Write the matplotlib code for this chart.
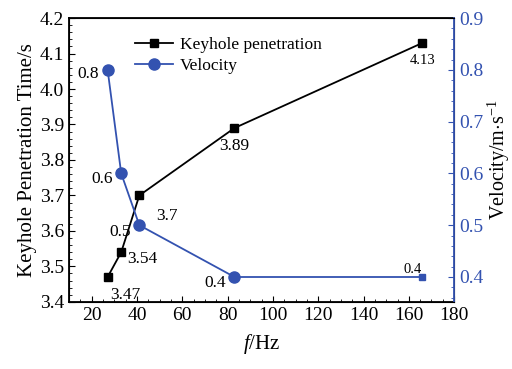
import numpy as np
from matplotlib import pyplot as plt
from matplotlib.ticker import MultipleLocator
from matplotlib.lines import Line2D

plt.rcParams['font.family'] = ['Liberation Serif', 'DejaVu Serif']
plt.rcParams['mathtext.fontset'] = 'custom'
plt.rcParams['mathtext.it'] = 'Liberation Serif:italic'
plt.rcParams['mathtext.rm'] = 'Liberation Serif'

# frequence et mesures
freq = [27, 33, 41, 83, 166]
penetration = [3.47, 3.54, 3.7, 3.89, 4.13]
vitesse = [0.8, 0.6, 0.5, 0.4, 0.4]
bleu = '#3352b0'

fig = plt.figure(figsize=(5.12, 3.69), dpi=100)
ax = fig.add_axes([0.135, 0.182, 0.752, 0.769])
ax2 = ax.twinx()

# temps de penetration (axe gauche)
ax.plot(freq, penetration, color='black', lw=1.3, marker='s', ms=6, zorder=3)
ax.set_xlim(10, 180)
ax.set_ylim(3.4, 4.2)
ax.xaxis.set_major_locator(MultipleLocator(20))
ax.xaxis.set_minor_locator(MultipleLocator(5))
ax.yaxis.set_major_locator(MultipleLocator(0.1))
ax.yaxis.set_minor_locator(MultipleLocator(0.02))
ax.set_xticks(np.arange(20, 181, 20))
ax.set_yticks(np.arange(3.4, 4.21, 0.1))
ax.set_yticklabels([f'{v:.1f}' for v in np.arange(3.4, 4.21, 0.1)])
ax.tick_params(axis='both', which='both', direction='in', labelsize=14, top=False)
ax.tick_params(axis='both', which='major', length=4)
ax.tick_params(axis='both', which='minor', length=2.5)
ax.tick_params(axis='y', right=False)
ax.set_xlabel('$f$/Hz', fontsize=15, labelpad=6)
ax.set_ylabel('Keyhole Penetration Time/s', fontsize=15, labelpad=2)

# vitesse (axe droit)
ax2.plot(freq[:4], vitesse[:4], color=bleu, lw=1.3, marker='o', ms=8, zorder=3)
ax2.plot(freq[3:], vitesse[3:], color=bleu, lw=1.3, zorder=3)
ax2.plot(freq[4], vitesse[4], color=bleu, marker='s', ms=4, ls='none')
ax2.set_ylim(0.352, 0.9)
ax2.yaxis.set_major_locator(MultipleLocator(0.1))
ax2.yaxis.set_minor_locator(MultipleLocator(0.02))
ax2.set_yticks(np.arange(0.4, 0.91, 0.1))
ax2.set_yticklabels([f'{v:.1f}' for v in np.arange(0.4, 0.91, 0.1)])
ax2.tick_params(axis='y', which='both', direction='in', labelsize=14,
                colors=bleu, labelcolor=bleu)
ax2.tick_params(axis='y', which='major', length=4)
ax2.tick_params(axis='y', which='minor', length=2.5)
ax2.spines['right'].set_color(bleu)
ax2.spines['right'].set_linewidth(1.3)
ax2.set_ylabel('Velocity/m$\\cdot$s$^{-1}$', fontsize=14.5, labelpad=2)
for s in ['left', 'bottom', 'top']:
    ax.spines[s].set_linewidth(1.3)

# valeurs sur les points
ax.annotate('3.47', (freq[0], penetration[0]), xytext=(2, -16), textcoords='offset points',
            fontsize=12.5, ha='left')
ax.annotate('3.54', (freq[1], penetration[1]), xytext=(4, -8), textcoords='offset points',
            fontsize=12.5, ha='left')
ax.annotate('3.7', (freq[2], penetration[2]), xytext=(12, -18), textcoords='offset points',
            fontsize=12.5, ha='left')
ax.annotate('3.89', (freq[3], penetration[3]), xytext=(0, -16), textcoords='offset points',
            fontsize=12.5, ha='center')
ax.annotate('4.13', (freq[4], penetration[4]), xytext=(0, -15), textcoords='offset points',
            fontsize=10.5, ha='center')
ax2.annotate('0.8', (freq[0], vitesse[0]), xytext=(-6, -6), textcoords='offset points',
             fontsize=12.5, ha='right')
ax2.annotate('0.6', (freq[1], vitesse[1]), xytext=(-6, -7), textcoords='offset points',
             fontsize=12.5, ha='right')
ax2.annotate('0.5', (freq[2], vitesse[2]), xytext=(-6, -8), textcoords='offset points',
             fontsize=12.5, ha='right')
ax2.annotate('0.4', (freq[3], vitesse[3]), xytext=(-6, -7), textcoords='offset points',
             fontsize=12.5, ha='right')
ax2.annotate('0.4', (freq[4], vitesse[4]), xytext=(-7, 3), textcoords='offset points',
             fontsize=10.5, ha='center')

handles = [Line2D([], [], color='black', lw=1.3, marker='s', ms=6),
           Line2D([], [], color=bleu, lw=1.3, marker='o', ms=8)]
ax.legend(handles, ['Keyhole penetration', 'Velocity'], loc='upper left',
          bbox_to_anchor=(0.13, 0.99), frameon=False, fontsize=12.5,
          handlelength=2.2, handletextpad=0.4, labelspacing=0.3)

fig.savefig('out.png', dpi=100)
